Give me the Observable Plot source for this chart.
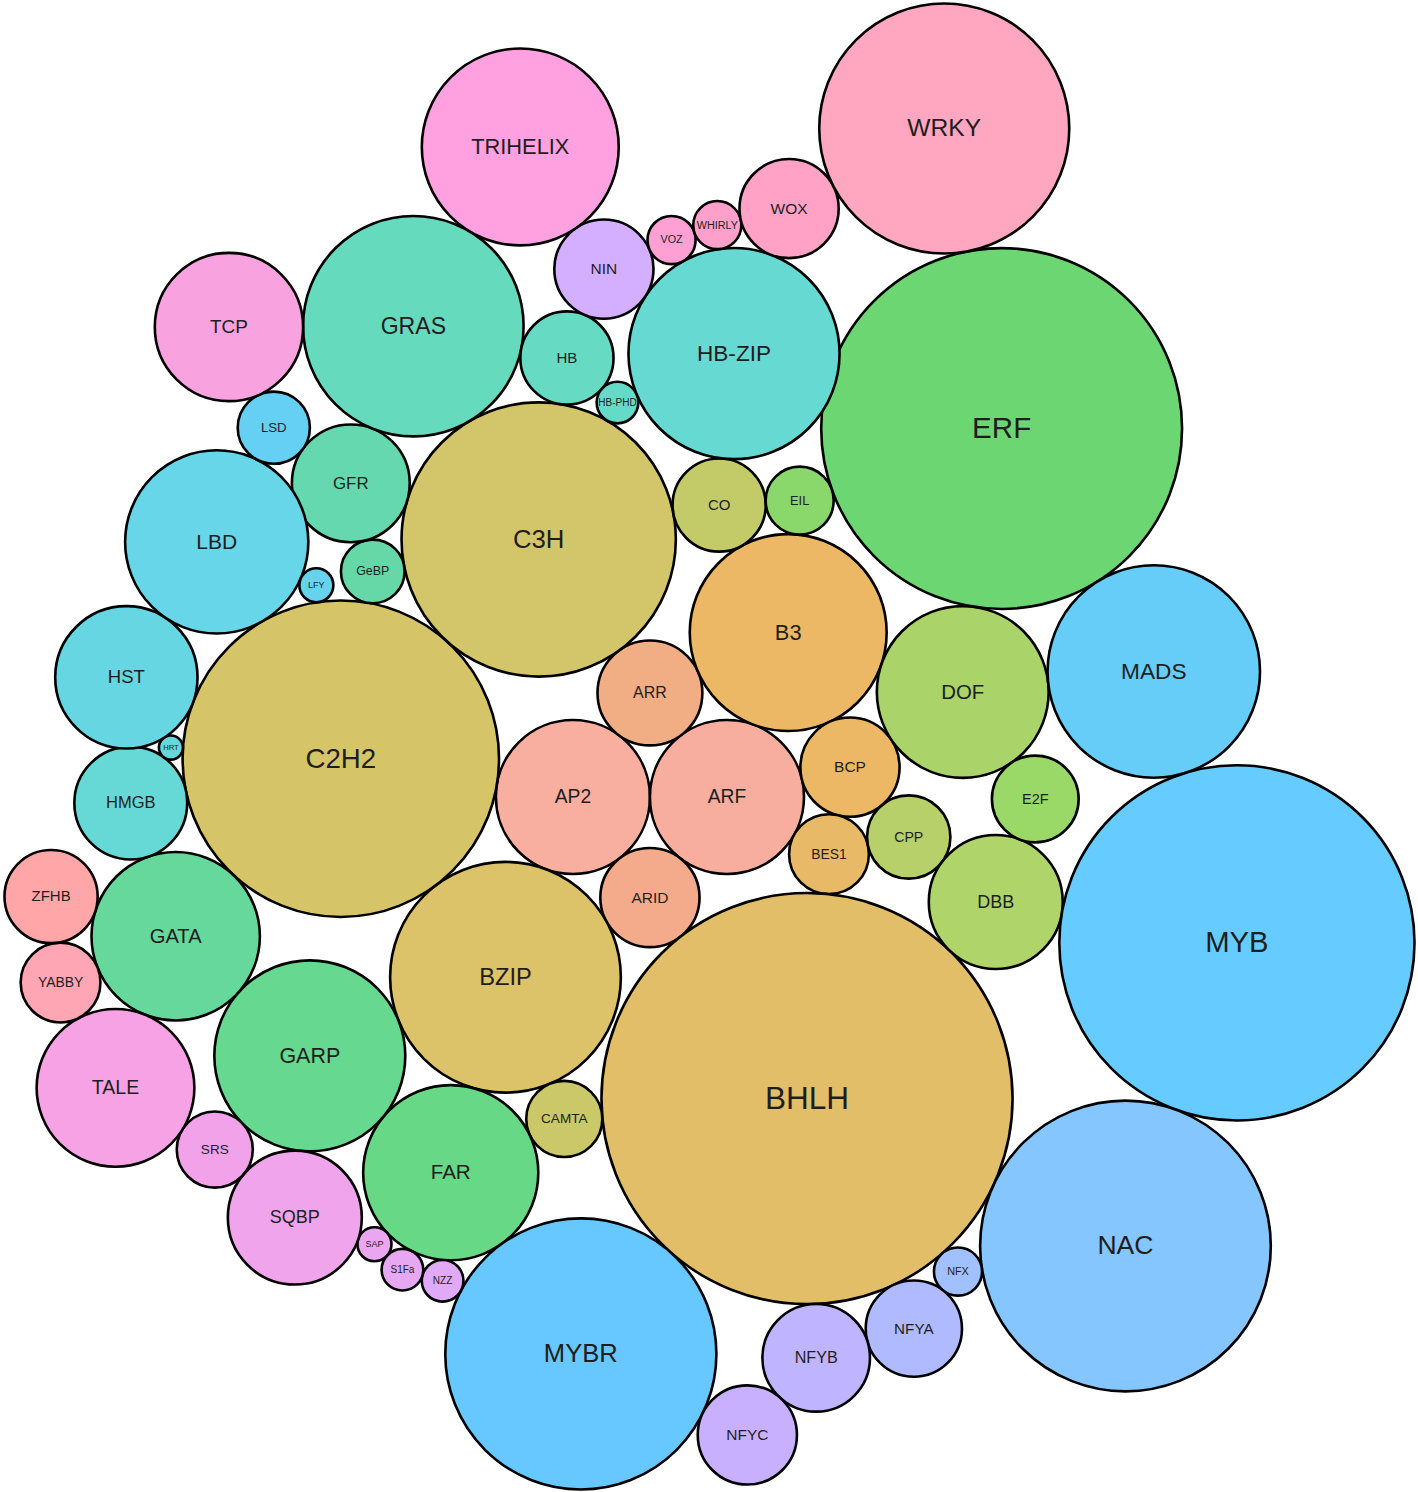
<!DOCTYPE html>
<html><head><meta charset="utf-8">
<script src="https://cdn.jsdelivr.net/npm/d3@7"></script>
<script src="https://cdn.jsdelivr.net/npm/@observablehq/plot@0.6"></script>
<style>body{margin:0;background:#fff}</style>
</head><body><div id="chart"></div>
<script>
// Transcription-factor families (alphabetical) and their gene counts (area of each bubble)
const families = ["AP2","ARF","ARID","ARR","B3","BCP","BES1","BHLH","BZIP","C2H2","C3H","CAMTA","CO","CPP","DBB","DOF","E2F","EIL","ERF","FAR","GARP","GATA","GeBP","GFR","GRAS","HB","HB-PHD","HB-ZIP","HMGB","HRT","HST","LBD","LFY","LSD","MADS","MYB","MYBR","NAC","NFX","NFYA","NFYB","NFYC","NIN","NZZ","S1Fa","SAP","SQBP","SRS","TALE","TCP","TRIHELIX","VOZ","WHIRLY","WOX","WRKY","YABBY","ZFHB"];
const counts = [41,41,17,19,67,17,11,292,92,173,130,10,15,12,31,51,13,8,225,53,63,49,7,24,84,15,3,77,22,1,35,58,2,9,78,218,127,146,4,16,20,17,17,3,3,2,31,10,43,38,67,4,4,17,108,11,15];
// the two earlier bubbles each bubble rests against in the packing
const touching = [[],["AP2"],["AP2","ARF"],["AP2","ARF"],["ARR","ARF"],["B3","ARF"],["BCP","ARF"],["BES1","ARID"],["ARID","AP2"],["AP2","BZIP"],["C2H2","ARR"],["BZIP","BHLH"],["C3H","B3"],["BCP","BES1"],["CPP","BHLH"],["B3","BCP"],["DOF","DBB"],["CO","B3"],["EIL","DOF"],["CAMTA","BZIP"],["FAR","BZIP"],["GARP","C2H2"],["C3H","C2H2"],["GeBP","C3H"],["GFR","C3H"],["GRAS","C3H"],["HB","C3H"],["HB-PHD","CO"],["GATA","C2H2"],["HMGB","C2H2"],["HRT","C2H2"],["HST","C2H2"],["LBD","C2H2"],["LBD","GFR"],["DOF","ERF"],["MADS","DBB"],["FAR","BHLH"],["MYB","BHLH"],["NAC","BHLH"],["NFX","BHLH"],["NFYA","BHLH"],["NFYB","MYBR"],["HB","HB-ZIP"],["MYBR","FAR"],["NZZ","FAR"],["S1Fa","FAR"],["SAP","GARP"],["SQBP","GARP"],["SRS","GATA"],["LSD","GRAS"],["GRAS","NIN"],["NIN","HB-ZIP"],["VOZ","HB-ZIP"],["WHIRLY","HB-ZIP"],["WOX","ERF"],["TALE","GATA"],["YABBY","GATA"]];
const colors = ["#F8AFA0","#F7AE9E","#F4AB8C","#F1AD84","#EDB866","#EDB866","#E8BA68","#E2BE68","#DCC268","#D6C468","#D3C66A","#CAC868","#C3CB69","#B8D06A","#AED46A","#AAD46A","#9AD868","#8AD86C","#6CD672","#66D886","#66D890","#66D89C","#66D8A8","#66D8B0","#66DABC","#66DAC2","#66DAC8","#66DAD2","#66D8D6","#66D8DC","#66D6E2","#66D6E8","#66D2EE","#66CFF4","#66CCF8","#66CCFF","#66C8FF","#86C6FF","#A0C0FF","#B0BAFF","#BEB4FF","#C8B0FF","#D4AEFF","#E0AAF8","#E6A8F2","#EAA6F0","#F0A4EC","#F2A2E8","#F6A2E4","#F8A2E0","#FFA0E0","#FFA0D4","#FFA0CA","#FFA2C6","#FFA6C0","#FFA6B4","#FFA6A8"];

// ---- packing: each bubble (radius ∝ √count) is put tangent to the two bubbles it rests on
const byName = new Map(), nodes = [];
function tangentSpots(a, b, r) {
  const da = a.r + r, db = b.r + r, dx = b.x - a.x, dy = b.y - a.y, d = Math.hypot(dx, dy);
  const ux = dx / d, uy = dy / d, t = (da * da - db * db + d * d) / (2 * d), h = Math.sqrt(Math.max(0, da * da - t * t));
  return [{x: a.x + t * ux - h * uy, y: a.y + t * uy + h * ux}, {x: a.x + t * ux + h * uy, y: a.y + t * uy - h * ux}];
}
families.forEach((name, i) => {
  const r = Math.sqrt(counts[i]), t = touching[i];
  let p = {x: 0, y: 0};
  if (t.length === 1) { const a = byName.get(t[0]); p = {x: a.x + a.r + r, y: a.y}; }
  else if (t.length === 2) {
    const spots = tangentSpots(byName.get(t[0]), byName.get(t[1]), r);
    const overlap = s => d3.sum(nodes, q => Math.max(0, r + q.r - Math.hypot(s.x - q.x, s.y - q.y)));
    spots.sort((u, v) => (overlap(u) - overlap(v)) || (v.y - u.y));
    p = spots[0];
  }
  const node = {name, value: counts[i], r, x: p.x, y: p.y};
  nodes.push(node); byName.set(name, node);
});

const W = 1418, H = 1492, pad = 3;
const x0 = d3.min(nodes, d => d.x - d.r), x1 = d3.max(nodes, d => d.x + d.r);
const y0 = d3.min(nodes, d => d.y - d.r), y1 = d3.max(nodes, d => d.y + d.r);
const k = Math.min((W - 2 * pad) / (x1 - x0), (H - 2 * pad) / (y1 - y0));
const ox = (W - k * (x1 - x0)) / 2, oy = (H - k * (y1 - y0)) / 2;

const chart = Plot.plot({
  width: W, height: H, margin: 0,
  style: {background: "#fff"},
  x: {domain: [x0, x1], range: [ox, ox + k * (x1 - x0)], axis: null},
  y: {domain: [y0, y1], range: [oy, oy + k * (y1 - y0)], axis: null},
  r: {type: "linear", domain: [0, 1], range: [0, k]},
  color: {domain: families, range: colors},
  marks: [
    Plot.dot(nodes, {x: "x", y: "y", r: "r", fill: "name", fillOpacity: 1, stroke: "#000", strokeWidth: 2.6, sort: null}),
    Plot.text(nodes, {x: "x", y: "y", text: "name", fill: "#1e1e1e",
      fontSize: d => 2.2 * Math.sqrt(k * d.r), fontFamily: "Liberation Sans, Arial, sans-serif"})
  ]
});

// clip each label to its own bubble
const svg = d3.select(chart);
const defs = svg.insert("defs", ":first-child");
const sx = chart.scale("x"), sy = chart.scale("y");
svg.selectAll('g[aria-label="text"] text').each(function(_, i) {
  const d = nodes[i];
  const m = /translate\(\s*([-\d.e]+)[ ,]+([-\d.e]+)\s*\)/.exec(this.getAttribute("transform") || "");
  const tx = m ? +m[1] : 0, ty = m ? +m[2] : 0;
  defs.append("clipPath").attr("id", "lbl" + i).append("circle")
    .attr("cx", sx.apply(d.x) - tx).attr("cy", sy.apply(d.y) - ty).attr("r", Math.max(1, k * d.r - 1.5));
  this.setAttribute("clip-path", `url(#lbl${i})`);
});
document.getElementById("chart").appendChild(chart);
</script>
</body></html>
